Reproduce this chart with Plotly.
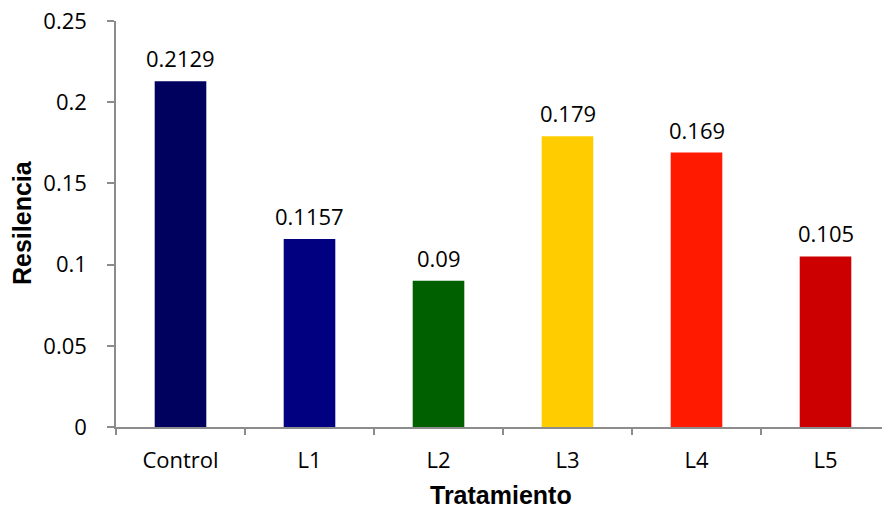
import plotly.graph_objects as go

categories = ["Control", "L1", "L2", "L3", "L4", "L5"]
values = [0.2129, 0.1157, 0.09, 0.179, 0.169, 0.105]
labels = ["0.2129", "0.1157", "0.09", "0.179", "0.169", "0.105"]
colors = ["#00005e", "#000080", "#006000", "#ffcc00", "#ff1a00", "#cc0000"]
y_ticks = [0, 0.05, 0.1, 0.15, 0.2, 0.25]
y_ticktext = ["0", "0.05", "0.1", "0.15", "0.2", "0.25"]

tick_font = dict(family="Open Sans, Liberation Sans, sans-serif", size=22, color="#000000")
title_font = dict(family="Liberation Sans, Arial, sans-serif", size=25, color="#000000")

PL, PT, PB = 116, 21, 427     # plot area in page pixels
PW = 882 - PL
PH = PB - PT

fig = go.Figure(go.Bar(
    x=categories, y=values, marker=dict(color=colors, line=dict(width=0)),
    width=0.4, cliponaxis=False, hoverinfo="skip",
))

annotations = []
for c, v, t in zip(categories, values, labels):
    annotations.append(dict(x=c, y=v, xref="x", yref="y", text=t, showarrow=False,
                            yanchor="bottom", xanchor="center", yshift=6, font=tick_font))

annotations.append(dict(text="<b>Tratamiento</b>", xref="paper", yref="paper",
                        x=(501 - PL) / PW, y=(PB - 510) / PH, borderpad=0,
                        xanchor="center", yanchor="bottom", showarrow=False, font=title_font))
annotations.append(dict(text="<b>Resilencia</b>", textangle=-90, xref="paper", yref="paper",
                        x=(22 - PL) / PW, y=(PB - 223) / PH,
                        xanchor="center", yanchor="middle", showarrow=False, font=title_font))

fig.update_layout(
    width=882, height=510,
    margin=dict(l=PL, r=0, t=PT, b=510 - PB),
    paper_bgcolor="white", plot_bgcolor="white",
    showlegend=False,
    xaxis=dict(
        range=[-0.5, 5.438], showline=True, linecolor="#8c8c8c", linewidth=1.5,
        ticks="outside", tickson="boundaries", ticklen=6, tickcolor="#8c8c8c", tickwidth=1.5,
        tickfont=tick_font, ticklabelstandoff=13, showgrid=False, automargin=False,
    ),
    yaxis=dict(
        range=[0, 0.25], showline=True, linecolor="#8c8c8c", linewidth=1.5,
        ticks="outside", ticklen=7, tickcolor="#8c8c8c", tickwidth=1.5,
        tickvals=y_ticks, ticktext=y_ticktext, tickfont=tick_font,
        ticklabelstandoff=16, showgrid=False, zeroline=False,
        ticklabeloverflow="allow", automargin=False,
    ),
    annotations=annotations,
)

fig.write_html("out.html", config={"displayModeBar": False},
               post_script="document.body.style.margin='0';")
